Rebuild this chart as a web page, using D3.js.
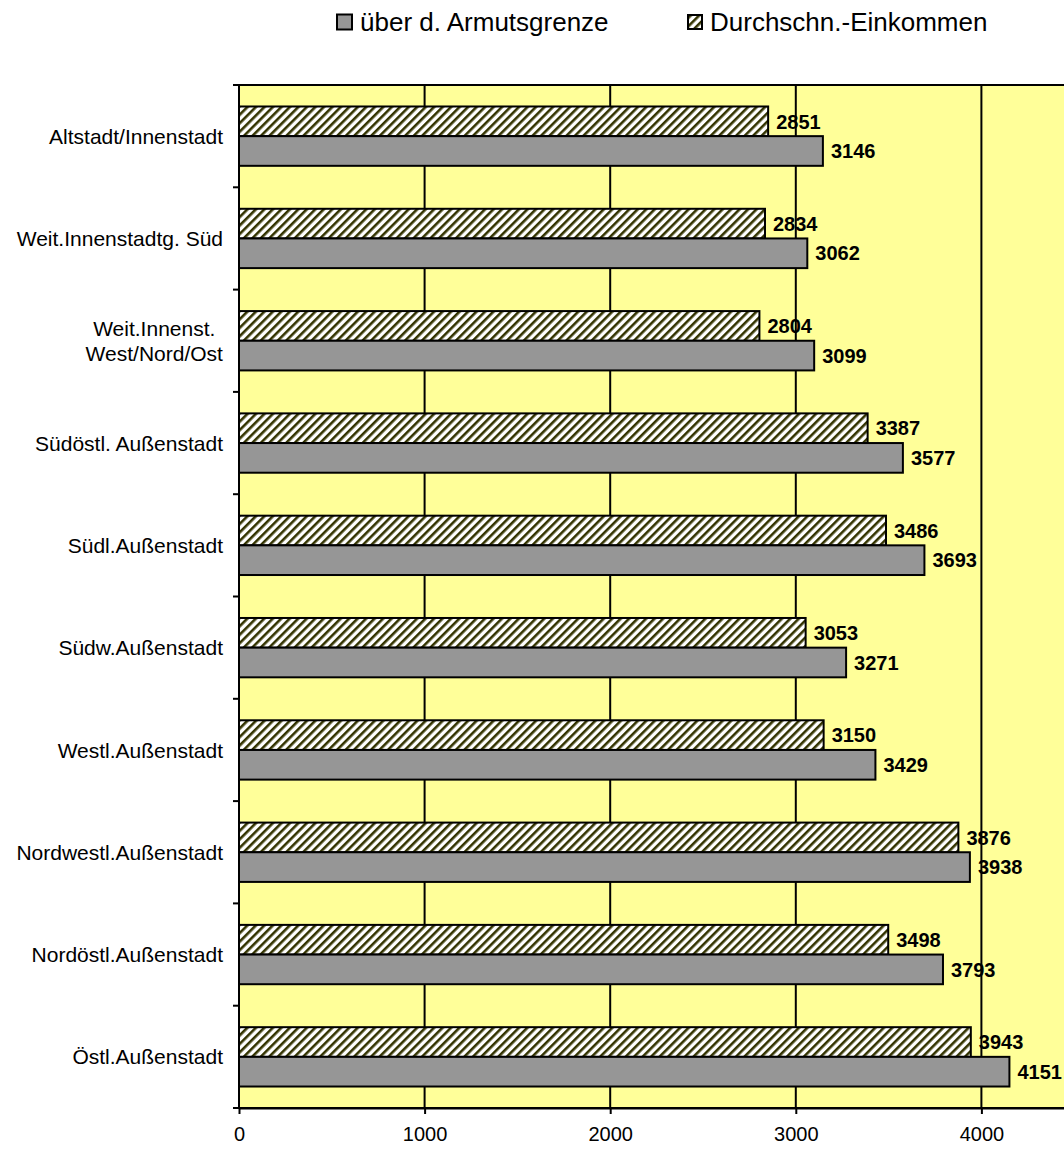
<!DOCTYPE html>
<html>
<head>
<meta charset="utf-8">
<script src="https://cdn.jsdelivr.net/npm/d3@7"></script>
<style>
  body { margin: 0; background: #fff; }
  text { font-family: Arial, "Liberation Sans", sans-serif; fill: #000; }
  .value-label { font-weight: bold; font-size: 20px; }
  .cat-label { font-size: 21px; }
  .x-axis text { font-size: 20px; }
  .legend text { font-size: 26px; }
</style>
</head>
<body>
<svg id="chart"></svg>
<script>
// Data
const districts = [
  "Altstadt/Innenstadt",
  "Weit.Innenstadtg. Süd",
  "Weit.Innenst.\nWest/Nord/Ost",
  "Südöstl. Außenstadt",
  "Südl.Außenstadt",
  "Südw.Außenstadt",
  "Westl.Außenstadt",
  "Nordwestl.Außenstadt",
  "Nordöstl.Außenstadt",
  "Östl.Außenstadt"
];
const averageIncome = [2851, 2834, 2804, 3387, 3486, 3053, 3150, 3876, 3498, 3943];
const abovePovertyLine = [3146, 3062, 3099, 3577, 3693, 3271, 3429, 3938, 3793, 4151];
const seriesKeys = ["avg", "above"];
const seriesNames = ["über d. Armutsgrenze", "Durchschn.-Einkommen"];
const xTicks = [0, 1000, 2000, 3000, 4000];
const xMax = 4500;

const config = {
  width: 1064,
  height: 1151,
  left: 239,
  top: 85,
  bottom: 1108
};

const data = districts.map((d, i) => ({
  name: d,
  avg: averageIncome[i],
  above: abovePovertyLine[i]
}));

const svg = d3.select("#chart")
  .attr("width", config.width)
  .attr("height", config.height);

// hatch pattern for the average-income bars
const defs = svg.append("defs");
defs.append("pattern")
  .attr("id", "hatch")
  .attr("patternUnits", "userSpaceOnUse")
  .attr("width", 6)
  .attr("height", 6)
  .attr("patternTransform", "rotate(45)")
  .call(p => {
    p.append("rect").attr("width", 6).attr("height", 6).attr("fill", "#fff");
    p.append("rect").attr("x", 0).attr("y", 0).attr("width", 2.6).attr("height", 6).attr("fill", "#333300");
  });

// scales
const xScale = d3.scaleLinear()
  .domain([0, xMax])
  .range([config.left, config.left + 185.6 * xMax / 1000]);

const yScale = d3.scaleBand()
  .domain(districts)
  .range([config.top, config.bottom])
  .paddingInner(0.42)
  .paddingOuter(0.21);

const subScale = d3.scaleBand()
  .domain(seriesKeys)
  .range([0, yScale.bandwidth()]);

const fills = { avg: "url(#hatch)", above: "#969696" };

// plot area
svg.append("rect")
  .attr("x", config.left)
  .attr("y", config.top)
  .attr("width", xScale(xMax) - config.left)
  .attr("height", config.bottom - config.top)
  .attr("fill", "#ffff99")
  .attr("stroke", "#000")
  .attr("stroke-width", 2);

// vertical gridlines
svg.append("g")
  .selectAll("line")
  .data(xTicks.filter(d => d > 0))
  .join("line")
  .attr("x1", d => xScale(d))
  .attr("x2", d => xScale(d))
  .attr("y1", config.top)
  .attr("y2", config.bottom)
  .attr("stroke", "#000")
  .attr("stroke-width", 2);

// bars
const groups = svg.append("g")
  .selectAll("g")
  .data(data)
  .join("g")
  .attr("transform", d => `translate(0,${yScale(d.name)})`);

groups.selectAll("rect")
  .data(d => seriesKeys.map(k => ({ key: k, value: d[k] })))
  .join("rect")
  .attr("x", xScale(0))
  .attr("y", d => subScale(d.key))
  .attr("width", d => xScale(d.value) - xScale(0))
  .attr("height", subScale.bandwidth())
  .attr("fill", d => fills[d.key])
  .attr("stroke", "#000")
  .attr("stroke-width", 2);

groups.selectAll("text")
  .data(d => seriesKeys.map(k => ({ key: k, value: d[k] })))
  .join("text")
  .attr("class", "value-label")
  .attr("x", d => xScale(d.value) + 8)
  .attr("y", d => subScale(d.key) + subScale.bandwidth() / 2)
  .attr("dy", "0.36em")
  .text(d => d.value);

// left axis line + ticks on the band boundaries
const yAxisG = svg.append("g");
yAxisG.append("line")
  .attr("x1", config.left).attr("x2", config.left)
  .attr("y1", config.top).attr("y2", config.bottom)
  .attr("stroke", "#000").attr("stroke-width", 2);
yAxisG.selectAll(".tick")
  .data(d3.range(districts.length + 1))
  .join("line")
  .attr("class", "tick")
  .attr("x1", config.left - 6).attr("x2", config.left)
  .attr("y1", i => config.top + i * yScale.step())
  .attr("y2", i => config.top + i * yScale.step())
  .attr("stroke", "#000").attr("stroke-width", 2);

// category labels, multi-line ones centred like Excel does
svg.append("g")
  .selectAll("text")
  .data(districts)
  .join("text")
  .attr("class", "cat-label")
  .attr("y", d => yScale(d) + yScale.bandwidth() / 2)
  .each(function (d) {
    const lines = d.split("\n");
    const t = d3.select(this);
    lines.forEach((line, i) => {
      t.append("tspan")
        .attr("x", 223)
        .attr("y", yScale(d) + yScale.bandwidth() / 2 + (i - (lines.length - 1) / 2) * 25)
        .attr("dy", "0.36em")
        .text(line);
    });
    if (lines.length > 1) {
      const w = this.getBBox().width;
      t.attr("text-anchor", "middle").selectAll("tspan").attr("x", 223 - w / 2);
    } else {
      t.attr("text-anchor", "end");
    }
  });

// bottom axis
const xAxis = d3.axisBottom(xScale)
  .tickValues(xTicks)
  .tickSize(6)
  .tickSizeOuter(0)
  .tickPadding(13)
  .tickFormat(d3.format("d"));

const xAxisG = svg.append("g")
  .attr("class", "x-axis")
  .attr("transform", `translate(0,${config.bottom})`)
  .call(xAxis);
xAxisG.select(".domain").attr("stroke-width", 2);
xAxisG.selectAll(".tick line").attr("stroke-width", 2);
xAxisG.attr("font-family", null).attr("font-size", null);

// legend
const legend = svg.append("g").attr("class", "legend");
const legendItems = [
  { x: 337, size: 15, fill: fills.above, label: seriesNames[0] },
  { x: 688, size: 14, fill: fills.avg, label: seriesNames[1] }
];
legendItems.forEach(item => {
  legend.append("rect")
    .attr("x", item.x)
    .attr("y", 22 - item.size / 2)
    .attr("width", item.size)
    .attr("height", item.size)
    .attr("fill", item.fill)
    .attr("stroke", "#000")
    .attr("stroke-width", 2);
  legend.append("text")
    .attr("x", item.x + item.size + 8)
    .attr("y", 22)
    .attr("dy", "0.36em")
    .text(item.label);
});
</script>
</body>
</html>
